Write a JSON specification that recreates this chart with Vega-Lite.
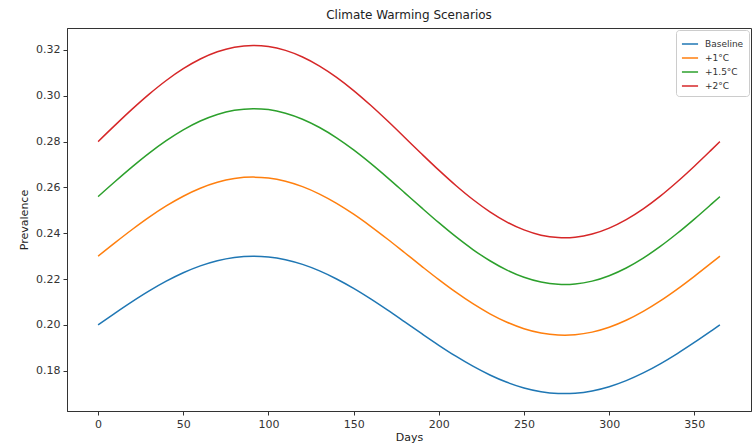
{
  "$schema": "https://vega.github.io/schema/vega-lite/v6.json",
  "width": 684,
  "height": 383,
  "autosize": {"type": "none"},
  "padding": {"left": 67, "top": 28, "right": 5, "bottom": 36},
  "background": "white",
  "title": {"text": "Climate Warming Scenarios", "font": "DejaVu Sans", "fontSize": 12, "fontWeight": "normal", "color": "#222", "offset": 6, "anchor": "middle"},
  "config": {
    "view": {"stroke": "#333", "strokeWidth": 1},
    "axis": {"labelFont": "DejaVu Sans", "titleFont": "DejaVu Sans", "labelFontSize": 11, "titleFontSize": 11, "titleFontWeight": "normal", "labelColor": "#333", "titleColor": "#222", "tickColor": "#333", "domainColor": "#333", "tickSize": 4, "grid": false, "labelPadding": 3}
  },
  "data": {"values": [
    {"day":0,"s":"Baseline","p":0.2},{"day":10,"s":"Baseline","p":0.20514},{"day":20,"s":"Baseline","p":0.21013},{"day":30,"s":"Baseline","p":0.21481},{"day":40,"s":"Baseline","p":0.21906},{"day":50,"s":"Baseline","p":0.22275},{"day":60,"s":"Baseline","p":0.22576},{"day":70,"s":"Baseline","p":0.22802},{"day":80,"s":"Baseline","p":0.22944},{"day":91,"s":"Baseline","p":0.23},{"day":100,"s":"Baseline","p":0.22966},{"day":110,"s":"Baseline","p":0.22845},{"day":120,"s":"Baseline","p":0.2264},{"day":130,"s":"Baseline","p":0.22357},{"day":140,"s":"Baseline","p":0.22004},{"day":150,"s":"Baseline","p":0.21592},{"day":160,"s":"Baseline","p":0.21133},{"day":170,"s":"Baseline","p":0.20641},{"day":180,"s":"Baseline","p":0.20129},{"day":190,"s":"Baseline","p":0.19614},{"day":200,"s":"Baseline","p":0.1911},{"day":210,"s":"Baseline","p":0.18632},{"day":220,"s":"Baseline","p":0.18195},{"day":230,"s":"Baseline","p":0.17812},{"day":240,"s":"Baseline","p":0.17492},{"day":250,"s":"Baseline","p":0.17247},{"day":260,"s":"Baseline","p":0.17084},{"day":270,"s":"Baseline","p":0.17006},{"day":274,"s":"Baseline","p":0.17},{"day":280,"s":"Baseline","p":0.17017},{"day":290,"s":"Baseline","p":0.17117},{"day":300,"s":"Baseline","p":0.17301},{"day":310,"s":"Baseline","p":0.17566},{"day":320,"s":"Baseline","p":0.17902},{"day":330,"s":"Baseline","p":0.183},{"day":340,"s":"Baseline","p":0.18748},{"day":350,"s":"Baseline","p":0.19234},{"day":360,"s":"Baseline","p":0.19742},{"day":365,"s":"Baseline","p":0.2},
    {"day":0,"s":"+1°C","p":0.23},{"day":10,"s":"+1°C","p":0.23591},{"day":20,"s":"+1°C","p":0.24164},{"day":30,"s":"+1°C","p":0.24704},{"day":40,"s":"+1°C","p":0.25192},{"day":50,"s":"+1°C","p":0.25616},{"day":60,"s":"+1°C","p":0.25963},{"day":70,"s":"+1°C","p":0.26222},{"day":80,"s":"+1°C","p":0.26385},{"day":91,"s":"+1°C","p":0.2645},{"day":100,"s":"+1°C","p":0.26411},{"day":110,"s":"+1°C","p":0.26272},{"day":120,"s":"+1°C","p":0.26036},{"day":130,"s":"+1°C","p":0.25711},{"day":140,"s":"+1°C","p":0.25305},{"day":150,"s":"+1°C","p":0.24831},{"day":160,"s":"+1°C","p":0.24303},{"day":170,"s":"+1°C","p":0.23737},{"day":180,"s":"+1°C","p":0.23148},{"day":190,"s":"+1°C","p":0.22556},{"day":200,"s":"+1°C","p":0.21976},{"day":210,"s":"+1°C","p":0.21427},{"day":220,"s":"+1°C","p":0.20924},{"day":230,"s":"+1°C","p":0.20483},{"day":240,"s":"+1°C","p":0.20116},{"day":250,"s":"+1°C","p":0.19834},{"day":260,"s":"+1°C","p":0.19646},{"day":270,"s":"+1°C","p":0.19557},{"day":274,"s":"+1°C","p":0.1955},{"day":280,"s":"+1°C","p":0.1957},{"day":290,"s":"+1°C","p":0.19684},{"day":300,"s":"+1°C","p":0.19896},{"day":310,"s":"+1°C","p":0.202},{"day":320,"s":"+1°C","p":0.20587},{"day":330,"s":"+1°C","p":0.21045},{"day":340,"s":"+1°C","p":0.21561},{"day":350,"s":"+1°C","p":0.22119},{"day":360,"s":"+1°C","p":0.22703},{"day":365,"s":"+1°C","p":0.23},
    {"day":0,"s":"+1.5°C","p":0.256},{"day":10,"s":"+1.5°C","p":0.26258},{"day":20,"s":"+1.5°C","p":0.26896},{"day":30,"s":"+1.5°C","p":0.27496},{"day":40,"s":"+1.5°C","p":0.2804},{"day":50,"s":"+1.5°C","p":0.28511},{"day":60,"s":"+1.5°C","p":0.28898},{"day":70,"s":"+1.5°C","p":0.29186},{"day":80,"s":"+1.5°C","p":0.29368},{"day":91,"s":"+1.5°C","p":0.2944},{"day":100,"s":"+1.5°C","p":0.29397},{"day":110,"s":"+1.5°C","p":0.29241},{"day":120,"s":"+1.5°C","p":0.28979},{"day":130,"s":"+1.5°C","p":0.28617},{"day":140,"s":"+1.5°C","p":0.28166},{"day":150,"s":"+1.5°C","p":0.27638},{"day":160,"s":"+1.5°C","p":0.2705},{"day":170,"s":"+1.5°C","p":0.2642},{"day":180,"s":"+1.5°C","p":0.25765},{"day":190,"s":"+1.5°C","p":0.25106},{"day":200,"s":"+1.5°C","p":0.24461},{"day":210,"s":"+1.5°C","p":0.23849},{"day":220,"s":"+1.5°C","p":0.23289},{"day":230,"s":"+1.5°C","p":0.22799},{"day":240,"s":"+1.5°C","p":0.2239},{"day":250,"s":"+1.5°C","p":0.22076},{"day":260,"s":"+1.5°C","p":0.21867},{"day":270,"s":"+1.5°C","p":0.21768},{"day":274,"s":"+1.5°C","p":0.2176},{"day":280,"s":"+1.5°C","p":0.21782},{"day":290,"s":"+1.5°C","p":0.21909},{"day":300,"s":"+1.5°C","p":0.22146},{"day":310,"s":"+1.5°C","p":0.22484},{"day":320,"s":"+1.5°C","p":0.22914},{"day":330,"s":"+1.5°C","p":0.23424},{"day":340,"s":"+1.5°C","p":0.23998},{"day":350,"s":"+1.5°C","p":0.24619},{"day":360,"s":"+1.5°C","p":0.2527},{"day":365,"s":"+1.5°C","p":0.256},
    {"day":0,"s":"+2°C","p":0.28},{"day":10,"s":"+2°C","p":0.28719},{"day":20,"s":"+2°C","p":0.29418},{"day":30,"s":"+2°C","p":0.30074},{"day":40,"s":"+2°C","p":0.30669},{"day":50,"s":"+2°C","p":0.31184},{"day":60,"s":"+2°C","p":0.31607},{"day":70,"s":"+2°C","p":0.31922},{"day":80,"s":"+2°C","p":0.32121},{"day":91,"s":"+2°C","p":0.322},{"day":100,"s":"+2°C","p":0.32153},{"day":110,"s":"+2°C","p":0.31983},{"day":120,"s":"+2°C","p":0.31696},{"day":130,"s":"+2°C","p":0.313},{"day":140,"s":"+2°C","p":0.30806},{"day":150,"s":"+2°C","p":0.30229},{"day":160,"s":"+2°C","p":0.29586},{"day":170,"s":"+2°C","p":0.28897},{"day":180,"s":"+2°C","p":0.28181},{"day":190,"s":"+2°C","p":0.27459},{"day":200,"s":"+2°C","p":0.26754},{"day":210,"s":"+2°C","p":0.26085},{"day":220,"s":"+2°C","p":0.25473},{"day":230,"s":"+2°C","p":0.24936},{"day":240,"s":"+2°C","p":0.24489},{"day":250,"s":"+2°C","p":0.24146},{"day":260,"s":"+2°C","p":0.23917},{"day":270,"s":"+2°C","p":0.23809},{"day":274,"s":"+2°C","p":0.238},{"day":280,"s":"+2°C","p":0.23824},{"day":290,"s":"+2°C","p":0.23963},{"day":300,"s":"+2°C","p":0.24222},{"day":310,"s":"+2°C","p":0.24592},{"day":320,"s":"+2°C","p":0.25063},{"day":330,"s":"+2°C","p":0.2562},{"day":340,"s":"+2°C","p":0.26248},{"day":350,"s":"+2°C","p":0.26927},{"day":360,"s":"+2°C","p":0.27639},{"day":365,"s":"+2°C","p":0.28}
  ]},
  "mark": {"type": "line", "strokeWidth": 1.5, "interpolate": "monotone", "clip": true},
  "encoding": {
    "x": {"field": "day", "type": "quantitative", "title": "Days",
      "scale": {"domain": [-18.25, 383.25], "nice": false, "zero": false},
      "axis": {"values": [0, 50, 100, 150, 200, 250, 300, 350], "titlePadding": 2}},
    "y": {"field": "p", "type": "quantitative", "title": "Prevalence",
      "scale": {"domain": [0.1624, 0.3296], "nice": false, "zero": false},
      "axis": {"values": [0.18, 0.2, 0.22, 0.24, 0.26, 0.28, 0.3, 0.32], "format": ".2f", "titlePadding": 6}},
    "color": {"field": "s", "type": "nominal", "sort": null,
      "scale": {"domain": ["Baseline", "+1°C", "+1.5°C", "+2°C"], "range": ["#1f77b4", "#ff7f0e", "#2ca02c", "#d62728"]},
      "legend": {"title": null, "orient": "top-right", "offset": 2, "fillColor": "white", "strokeColor": "#ccc", "cornerRadius": 3, "padding": 5, "rowPadding": 0, "labelFont": "DejaVu Sans", "labelFontSize": 9, "labelColor": "#333", "symbolType": "stroke", "symbolStrokeWidth": 1.5, "symbolSize": 260, "labelOffset": 6}}
  }
}
